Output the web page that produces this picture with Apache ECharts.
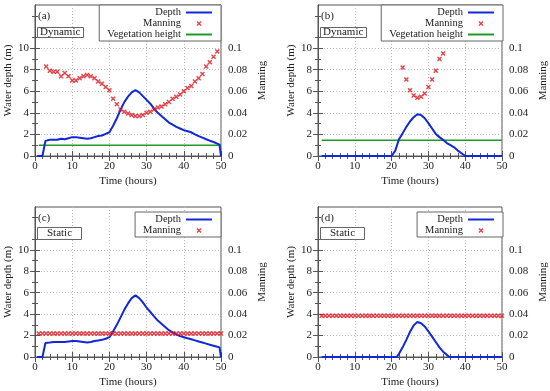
<!DOCTYPE html>
<html>
<head>
<meta charset="utf-8">
<script src="https://cdn.jsdelivr.net/npm/echarts@6/dist/echarts.min.js"></script>
<style>html,body{margin:0;padding:0;background:#fff}#c{width:550px;height:391px}</style>
</head>
<body>
<div id="c"></div>
<script>
// ---- data ----
const xTicks = [0, 10, 20, 30, 40, 50];
const depthTicks = [0, 2, 4, 6, 8, 10];
const manningTicks = [0, 0.02, 0.04, 0.06, 0.08, 0.1];

const timeAC = [0.6, 2, 2.8, 4, 5, 6, 7, 8, 9, 10, 11, 12, 13, 14, 15, 16, 17, 18, 19, 20, 21, 22, 23, 24, 25, 26, 27, 28, 29, 30, 31, 32, 33, 34, 35, 36, 37, 38, 39, 40, 41, 42, 43, 44, 45, 46, 47, 48, 49, 49.6, 50];
const depthA = [0, 0, 1.4, 1.5, 1.5, 1.5, 1.6, 1.55, 1.65, 1.75, 1.75, 1.7, 1.65, 1.6, 1.65, 1.75, 1.85, 1.9, 2.05, 2.2, 2.8, 3.5, 4.3, 5.0, 5.5, 5.9, 6.1, 5.9, 5.55, 5.2, 4.85, 4.4, 4.0, 3.7, 3.4, 3.1, 2.9, 2.7, 2.55, 2.4, 2.3, 2.2, 2.0, 1.85, 1.7, 1.55, 1.42, 1.3, 1.15, 1.05, 0];
const depthC = [0, 0, 1.3, 1.35, 1.4, 1.4, 1.4, 1.4, 1.45, 1.5, 1.5, 1.45, 1.4, 1.35, 1.4, 1.5, 1.55, 1.6, 1.7, 1.85, 2.4, 3.0, 3.7, 4.4, 5.0, 5.5, 5.75, 5.5, 5.1, 4.6, 4.2, 3.8, 3.4, 3.1, 2.8, 2.5, 2.3, 2.1, 1.95, 1.85, 1.75, 1.65, 1.55, 1.45, 1.35, 1.25, 1.15, 1.05, 0.95, 0.9, 0];

const timeB = [1, 20, 21, 22, 23, 24, 25, 26, 27, 28, 29, 30, 31, 32, 33, 34, 35, 36, 37, 38, 39, 40, 50];
const depthB = [0, 0, 0.5, 1.55, 2.1, 2.7, 3.2, 3.6, 3.88, 3.8, 3.5, 3.05, 2.55, 2.05, 1.75, 1.5, 1.2, 1.0, 0.8, 0.5, 0.25, 0, 0];

const timeD = [1, 21.4, 22, 23, 24, 25, 26, 27, 28, 29, 30, 31, 32, 33, 34, 35, 35.7, 50];
const depthD = [0, 0, 0.3, 0.9, 1.6, 2.35, 2.95, 3.27, 3.15, 2.85, 2.4, 1.9, 1.4, 0.9, 0.5, 0.2, 0, 0];

const manTimeA = [3, 4, 5, 6, 7, 8, 9, 10, 11, 12, 13, 14, 15, 16, 17, 18, 19, 20, 21, 22, 23, 24, 25, 26, 27, 28, 29, 30, 31, 32, 33, 34, 35, 36, 37, 38, 39, 40, 41, 42, 43, 44, 45, 46, 47, 48, 49];
const manningA = [0.083, 0.079, 0.078, 0.078, 0.074, 0.077, 0.074, 0.070, 0.070, 0.072, 0.074, 0.075, 0.074, 0.072, 0.069, 0.067, 0.064, 0.061, 0.053, 0.048, 0.043, 0.041, 0.0395, 0.038, 0.037, 0.037, 0.038, 0.040, 0.041, 0.043, 0.045, 0.046, 0.048, 0.050, 0.053, 0.055, 0.057, 0.060, 0.063, 0.065, 0.069, 0.072, 0.076, 0.083, 0.087, 0.092, 0.097];

const manTimeB = [23, 24, 25, 26, 27, 28, 29, 30, 31, 32, 33, 34];
const manningB = [0.082, 0.071, 0.061, 0.056, 0.054, 0.055, 0.058, 0.064, 0.071, 0.079, 0.090, 0.095];

const manTimeCD = [1, 2, 3, 4, 5, 6, 7, 8, 9, 10, 11, 12, 13, 14, 15, 16, 17, 18, 19, 20, 21, 22, 23, 24, 25, 26, 27, 28, 29, 30, 31, 32, 33, 34, 35, 36, 37, 38, 39, 40, 41, 42, 43, 44, 45, 46, 47, 48, 49, 50];
const manningC = [0.022, 0.022, 0.022, 0.022, 0.022, 0.022, 0.022, 0.022, 0.022, 0.022, 0.022, 0.022, 0.022, 0.022, 0.022, 0.022, 0.022, 0.022, 0.022, 0.022, 0.022, 0.022, 0.022, 0.022, 0.022, 0.022, 0.022, 0.022, 0.022, 0.022, 0.022, 0.022, 0.022, 0.022, 0.022, 0.022, 0.022, 0.022, 0.022, 0.022, 0.022, 0.022, 0.022, 0.022, 0.022, 0.022, 0.022, 0.022, 0.022, 0.022];
const manningD = [0.0385, 0.0385, 0.0385, 0.0385, 0.0385, 0.0385, 0.0385, 0.0385, 0.0385, 0.0385, 0.0385, 0.0385, 0.0385, 0.0385, 0.0385, 0.0385, 0.0385, 0.0385, 0.0385, 0.0385, 0.0385, 0.0385, 0.0385, 0.0385, 0.0385, 0.0385, 0.0385, 0.0385, 0.0385, 0.0385, 0.0385, 0.0385, 0.0385, 0.0385, 0.0385, 0.0385, 0.0385, 0.0385, 0.0385, 0.0385, 0.0385, 0.0385, 0.0385, 0.0385, 0.0385, 0.0385, 0.0385, 0.0385, 0.0385, 0.0385];

const vegTime = [1, 50];
const vegA = [1.0, 1.0];
const vegB = [1.45, 1.45];

const panelLabels = ['(a)', '(b)', '(c)', '(d)'];
const modeLabels = ['Dynamic', 'Dynamic', 'Static', 'Static'];

// ---- chart ----
const FONT = 'Liberation Serif';
const TXT = '#222';
const BLUE = '#1028d8';
const RED = '#e0141e';
const GREEN = '#1f9a2a';
const XSYM = 'path://M0,2L2,0L5,3L8,0L10,2L7,5L10,8L8,10L5,7L2,10L0,8L3,5Z';

const zip = (a, b) => a.map((v, i) => [v, b[i]]);

const grids = [
  {left: 35, top: 5, width: 186, height: 151},
  {left: 318, top: 5, width: 185, height: 151},
  {left: 35, top: 207, width: 186, height: 150},
  {left: 318, top: 207, width: 185, height: 150}
];

const option = {
  animation: false,
  backgroundColor: '#fff',
  textStyle: {fontFamily: FONT, color: TXT},
  grid: grids.map(g => Object.assign({show: true, borderColor: '#555', borderWidth: 1, containLabel: false}, g)),
  xAxis: [], yAxis: [], series: [], legend: [], title: []
};

const axisLineStyle = {show: true, lineStyle: {color: '#555', width: 1}};
const splitStyle = {show: true, lineStyle: {color: '#b8b8b8', width: 1, type: [1, 2]}};

grids.forEach((g, i) => {
  option.xAxis.push({
    type: 'value', gridIndex: i, min: 0, max: 50, interval: 10, position: 'bottom',
    axisLine: axisLineStyle,
    axisTick: {inside: true, length: 5, lineStyle: {color: '#555'}},
    minorTick: {show: true, splitNumber: 5, length: 3, lineStyle: {color: '#555'}},
    axisLabel: {color: TXT, fontSize: 11, margin: 5, customValues: xTicks},
    splitLine: splitStyle,
    name: 'Time (hours)', nameLocation: 'middle', nameGap: 20,
    nameTextStyle: {color: TXT, fontSize: 11}
  });
  option.xAxis.push({
    type: 'value', gridIndex: i, min: 0, max: 50, interval: 10, position: 'top',
    axisLine: axisLineStyle,
    axisTick: {inside: true, length: 5, lineStyle: {color: '#555'}},
    minorTick: {show: true, splitNumber: 5, length: 3, lineStyle: {color: '#555'}},
    axisLabel: {show: false}, splitLine: {show: false}
  });
  option.yAxis.push({
    type: 'value', gridIndex: i, min: 0, max: 14, interval: 2, position: 'left',
    axisLine: axisLineStyle,
    axisTick: {inside: true, length: 5, lineStyle: {color: '#555'}, customValues: depthTicks},
    minorTick: {show: true, splitNumber: 2, length: 3, lineStyle: {color: '#555'}},
    axisLabel: {color: TXT, fontSize: 11, margin: 6, customValues: depthTicks},
    splitLine: splitStyle,
    name: 'Water depth (m)', nameLocation: 'middle', nameGap: 21, nameRotate: 90,
    nameTextStyle: {color: TXT, fontSize: 11}
  });
  option.yAxis.push({
    type: 'value', gridIndex: i, min: 0, max: 0.14, interval: 0.02, position: 'right',
    axisLine: axisLineStyle,
    axisTick: {inside: true, length: 5, lineStyle: {color: '#555'}, customValues: manningTicks},
    minorTick: {show: true, splitNumber: 2, length: 3, lineStyle: {color: '#555'}},
    axisLabel: {color: TXT, fontSize: 11, margin: 7, customValues: manningTicks,
      formatter: v => (Math.abs(v) < 1e-9 ? '0' : Math.abs(v - 0.1) < 1e-9 ? '0.1' : v.toFixed(2))},
    splitLine: {show: false},
    name: 'Manning', nameLocation: 'middle', nameGap: 36, nameRotate: 90,
    nameTextStyle: {color: TXT, fontSize: 11}
  });
});

const depthSets = [[timeAC, depthA], [timeB, depthB], [timeAC, depthC], [timeD, depthD]];
const manSets = [[manTimeA, manningA], [manTimeB, manningB], [manTimeCD, manningC], [manTimeCD, manningD]];
const vegSets = [vegA, vegB, null, null];

grids.forEach((g, i) => {
  option.series.push({
    type: 'line', name: 'Depth', xAxisIndex: 2 * i, yAxisIndex: 2 * i,
    data: zip(depthSets[i][0], depthSets[i][1]), symbol: 'none', showSymbol: false, z: 4,
    lineStyle: {color: BLUE, width: 2}, itemStyle: {color: BLUE}
  });
  option.series.push({
    type: 'scatter', name: 'Manning', xAxisIndex: 2 * i, yAxisIndex: 2 * i + 1,
    data: zip(manSets[i][0], manSets[i][1]), symbol: XSYM, symbolSize: 5, symbolKeepAspect: true, z: 5,
    itemStyle: {color: RED}
  });
  if (vegSets[i]) {
    option.series.push({
      type: 'line', name: 'Vegetation height', xAxisIndex: 2 * i, yAxisIndex: 2 * i,
      data: zip(vegTime, vegSets[i]), symbol: 'none', showSymbol: false, z: 3,
      lineStyle: {color: GREEN, width: 1.5}, itemStyle: {color: GREEN}
    });
  }
  const right = 550 - (g.left + g.width);
  const names = vegSets[i] ? ['Depth', 'Manning', 'Vegetation height'] : ['Depth', 'Manning'];
  option.legend.push({
    orient: 'vertical', align: 'right', right: right, top: g.top + (i < 2 ? 0 : 5),
    itemGap: 0, itemWidth: 26, itemHeight: 5, selectedMode: false,
    borderColor: '#666', borderWidth: 1, padding: [2, 8, 1, 8], backgroundColor: '#fff',
    textStyle: {color: TXT, fontSize: 10.5, lineHeight: 10, fontFamily: FONT},
    data: names.map(n => n === 'Manning' ? {name: n} : {name: n, itemStyle: {opacity: 0}})
  });
  option.title.push({
    text: panelLabels[i], left: g.left + 3, top: g.top + 6, padding: 0,
    textStyle: {color: TXT, fontSize: 11, fontWeight: 'normal', fontFamily: FONT}
  });
  option.title.push({
    text: modeLabels[i], left: g.left + 2, top: g.top + (i < 2 ? 22 : 20),
    padding: modeLabels[i] === 'Static' ? [1, 10, 1, 10] : [0, 3, 0, 3],
    borderColor: '#666', borderWidth: 1, backgroundColor: '#fff',
    textStyle: {color: TXT, fontSize: 11, fontWeight: 'normal', lineHeight: 11, fontFamily: FONT}
  });
});

const chart = echarts.init(document.getElementById('c'), null, {renderer: 'canvas'});
chart.setOption(option);
</script>
</body>
</html>
